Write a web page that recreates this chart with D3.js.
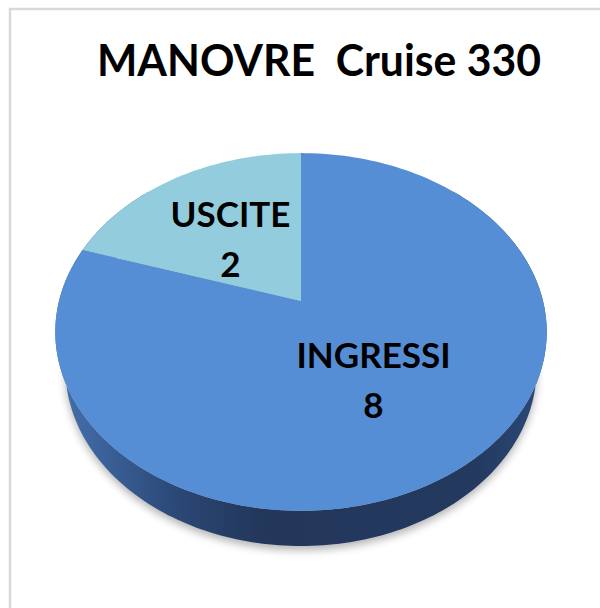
<!DOCTYPE html>
<html>
<head>
<meta charset="utf-8">
<script src="https://cdn.jsdelivr.net/npm/d3@7"></script>
<style>
  body { margin:0; background:#fff; }
  text { font-family: Lato, "Open Sans", sans-serif; font-weight: bold; fill:#000; }
</style>
</head>
<body>
<div class="chart"></div>
<script>
var title = "MANOVRE  Cruise 330";
var categories = ["INGRESSI", "USCITE"];
var values = [8, 2];
var colors = ["#558ed5", "#93cddd"];

var W = 600, H = 608;
// 3d view of the pie: center on screen, radius scale, camera distance, tilt, thickness
var view = { cx:301, cy:301, k:242, d:4.03, tilt:45.8 * Math.PI / 180, thick:0.233 };
var sinT = Math.sin(view.tilt), cosT = Math.cos(view.tilt);

// theta clockwise from 12 o'clock, r in radius units, y = height (0 top face, negative = down)
function project(theta, r, y) {
  var X = r * Math.sin(theta), Z = r * Math.cos(theta);
  var up = y * cosT + Z * sinT;
  var depth = view.d - y * sinT + Z * cosT;
  return [view.cx + view.k * view.d * X / depth, view.cy - view.k * view.d * up / depth];
}

var svg = d3.select('.chart')
            .append('svg')
            .attr('width', W)
            .attr('height', H);

// chart area border
svg.append('rect')
   .attr('x', 10).attr('y', 9)
   .attr('width', W + 20).attr('height', H + 20)
   .attr('fill', '#fff')
   .attr('stroke', '#d9d9d9')
   .attr('stroke-width', 2.5);

svg.append('text')
   .attr('x', 319)
   .attr('y', 76)
   .attr('text-anchor', 'middle')
   .attr('textLength', 444)
   .attr('lengthAdjust', 'spacingAndGlyphs')
   .style('font-size', '44px')
   .style('white-space', 'pre')
   .text(title);

var defs = svg.append('defs');
defs.append('filter').attr('id', 'shadow')
    .attr('x', '-20%').attr('y', '-20%').attr('width', '140%').attr('height', '140%')
    .append('feGaussianBlur').attr('stdDeviation', 4);

// side wall gradient, light from the left
var grad = defs.append('linearGradient').attr('id', 'side')
    .attr('gradientUnits', 'userSpaceOnUse')
    .attr('x1', 55).attr('x2', 547).attr('y1', 0).attr('y2', 0);
[[0, '#4671ad'], [0.1, '#3b6199'], [0.25, '#2b4775'], [0.42, '#22375a'], [0.85, '#23395e'], [1, '#2d4a7a']]
  .forEach(function (s) { grad.append('stop').attr('offset', s[0]).attr('stop-color', s[1]); });

var pie = d3.pie().sort(null).value(function (d) { return d; });
var arcs = pie(values);
var line = d3.line();
var N = 240;

// soft shadow under the pie
var ring = d3.range(N + 1).map(function (i) {
  var p = project(i / N * 2 * Math.PI, 1.0, -view.thick);
  return [p[0], p[1] + 4];
});
svg.append('path')
   .attr('d', line(ring) + 'Z')
   .attr('fill', '#000')
   .attr('opacity', 0.3)
   .attr('filter', 'url(#shadow)');

// side wall: front part of the rim, top edge then bottom edge back
var a0 = Math.PI / 4, a1 = 7 * Math.PI / 4;
var topEdge = d3.range(N + 1).map(function (i) { return project(a0 + (a1 - a0) * i / N, 1, 0); });
var botEdge = d3.range(N + 1).map(function (i) { return project(a1 - (a1 - a0) * i / N, 1, -view.thick); });
svg.append('path')
   .attr('d', line(topEdge.concat(botEdge)) + 'Z')
   .attr('fill', 'url(#side)');

// top faces of the slices
svg.append('g').selectAll('path')
   .data(arcs)
   .enter()
   .append('path')
   .attr('d', function (d) {
     var n = Math.max(2, Math.round((d.endAngle - d.startAngle) / (2 * Math.PI) * N));
     var pts = [project(0, 0, 0)];
     for (var i = 0; i <= n; i++) pts.push(project(d.startAngle + (d.endAngle - d.startAngle) * i / n, 1, 0));
     return line(pts) + 'Z';
   })
   .attr('fill', function (d, i) { return colors[i]; });

// labels
var labels = svg.append('g').selectAll('g')
   .data(arcs)
   .enter()
   .append('g')
   .attr('transform', function (d) {
     var p = project((d.startAngle + d.endAngle) / 2, 0.5, 0);
     return 'translate(' + (p[0] - 4) + ',' + p[1] + ')';
   });
labels.append('text')
   .attr('text-anchor', 'middle')
   .attr('y', -8)
   .style('font-size', '35px')
   .text(function (d, i) { return categories[i]; });
labels.append('text')
   .attr('text-anchor', 'middle')
   .attr('y', 42)
   .style('font-size', '35px')
   .text(function (d) { return d.value; });
</script>
</body>
</html>
